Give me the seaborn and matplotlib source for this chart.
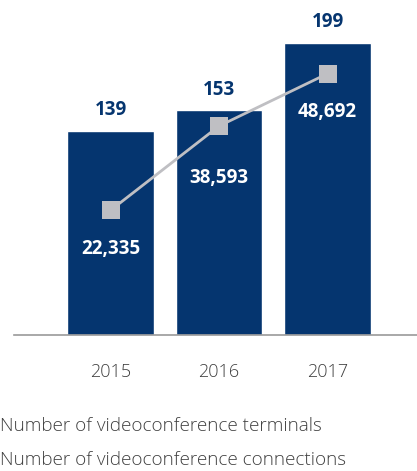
import matplotlib
matplotlib.use("Agg")
import matplotlib.pyplot as plt
from matplotlib.patches import Patch
from matplotlib.lines import Line2D
import seaborn as sns
import pandas as pd

# Data
years = ["2015", "2016", "2017"]
terminals = [139, 153, 199]
connections = [22335, 38593, 48692]
legend_labels = ["Number of videoconference terminals",
                 "Number of videoconference connections"]

NAVY = "#05356f"
GREY = "#bfbfc3"
TEXT = "#404040"

sns.set_theme(style="white")
plt.rcParams["font.family"] = ["Open Sans", "DejaVu Sans"]

W, H = 417, 471
fig = plt.figure(figsize=(W / 100, H / 100), dpi=100)
base_px = 335
ax = fig.add_axes([14 / W, (H - base_px) / H, (W - 14) / W, base_px / H])

df = pd.DataFrame({"year": years, "terminals": terminals, "connections": connections})

sns.barplot(data=df, x="year", y="terminals", color=NAVY, saturation=1,
            width=0.8, ax=ax)

ax2 = ax.twinx()
sns.pointplot(data=df, x="year", y="connections", color=GREY, markers="s",
              linestyles="-", ax=ax2, zorder=3)
for ln in ax2.lines:
    ln.set_markersize(12.3)
    ln.set_linewidth(2.0)
    ln.set_markeredgewidth(0)

ax.set_ylim(0, 228.3)
ax2.set_ylim(-1718, 62904)
ax.set_xlim(-0.89, 2.825)

# Value labels above the bars
for i, v in enumerate(terminals):
    ax.annotate(f"{v}", xy=(i, v), xytext=(0, 14.8), textcoords="offset points",
                ha="center", va="center", fontsize=13.5, fontweight="bold",
                color=NAVY)

# Value labels under the connection markers
conn_offsets = [-27.5, -37.5, -27.5]
for i, (v, off) in enumerate(zip(connections, conn_offsets)):
    ax2.annotate(f"{v:,}", xy=(i, v), xytext=(0, off), textcoords="offset points",
                 ha="center", va="center", fontsize=13.5, fontweight="bold",
                 color="white")

for a in (ax, ax2):
    for s in ("top", "right", "left"):
        a.spines[s].set_visible(False)
    a.set_ylabel("")
    a.set_yticks([])
ax2.spines["bottom"].set_visible(False)
ax.spines["bottom"].set_color("#9a9a9a")
ax.spines["bottom"].set_linewidth(1.2)
ax.set_xlabel("")
ax.tick_params(axis="x", length=0, pad=20.5, labelsize=13, labelcolor=TEXT)
for t in ax.get_xticklabels():
    t.set_fontweight("light")

handles = [Patch(facecolor=NAVY, edgecolor="none"),
           Line2D([0], [0], color=GREY, lw=2, marker="s", markersize=9)]
fs = 13.6
fs_px = fs * 100 / 72
anchor_x = (0 - 1.8 * fs_px) / W
leg = fig.legend(handles, legend_labels, loc="upper left",
                 bbox_to_anchor=(anchor_x, 54 / H), bbox_transform=fig.transFigure,
                 frameon=False, fontsize=fs, borderpad=0, borderaxespad=0,
                 handlelength=1.0, handletextpad=0.8, labelspacing=0.85,
                 labelcolor=TEXT)
for t in leg.get_texts():
    t.set_fontweight("light")

fig.savefig("out.png", dpi=100)
